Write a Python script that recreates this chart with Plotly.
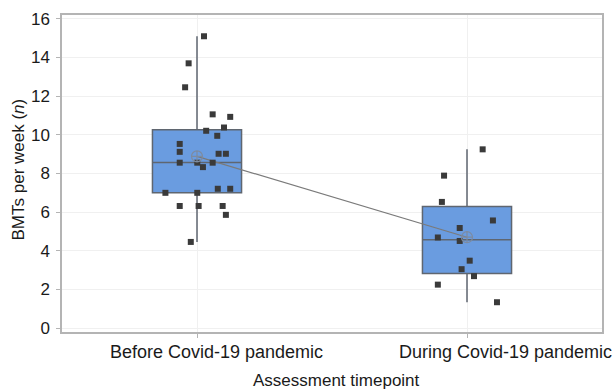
import plotly.graph_objects as go
import numpy as np

# ---- data ----
categories = ["Before Covid-19 pandemic", "During Covid-19 pandemic"]

before_values = [15.1, 13.7, 12.46, 11.06, 10.93, 10.21, 10.38, 9.95, 9.53, 9.12,
                 9.02, 9.02, 8.56, 8.56, 8.56, 8.33, 7.21, 7.21, 7.0, 7.0,
                 6.32, 6.32, 6.32, 5.86, 4.46]
before_jitter = [0.026, -0.031, -0.044, 0.058, 0.123, 0.034, 0.100, 0.075, -0.064, -0.064,
                 0.080, 0.107, -0.064, 0.001, 0.058, 0.022, 0.077, 0.123, -0.117, 0.001,
                 -0.064, 0.006, 0.095, 0.107, -0.023]

during_values = [9.25, 7.89, 6.53, 5.57, 5.18, 4.69, 4.51, 3.49, 3.05, 2.69, 2.25, 1.34]
during_jitter = [0.058, -0.085, -0.093, 0.096, -0.027, -0.108, -0.027, 0.010, -0.020, 0.026,
                 -0.108, 0.111]

box_q1 = [7.0, 2.83]
box_median = [8.57, 4.57]
box_q3 = [10.26, 6.29]
box_lower = [4.46, 1.34]
box_upper = [15.1, 9.25]

y_ticks = [0, 2, 4, 6, 8, 10, 12, 14, 16]

# ---- styles ----
FONT = "Liberation Sans, Arial, sans-serif"
BOX_FILL = "#6a9ce0"
BOX_LINE = "#5f6670"
POINT = "#3a3a3a"
GRID = "#f0f0f0"
AXIS = "#b4b4b4"
TEXT = "#1a1a1a"

fig = go.Figure()
positions = list(range(len(categories)))

for i in positions:
    fig.add_trace(go.Box(
        x=[positions[i]], q1=[box_q1[i]], median=[box_median[i]], q3=[box_q3[i]],
        lowerfence=[box_lower[i]], upperfence=[box_upper[i]],
        boxpoints=False, width=0.33, whiskerwidth=0,
        fillcolor=BOX_FILL, line=dict(color=BOX_LINE, width=1.5),
        showlegend=False, hoverinfo="skip"))

means = [float(np.mean(before_values)), float(np.mean(during_values))]
fig.add_trace(go.Scatter(x=positions, y=means, mode="lines",
                         line=dict(color="#7a7a7a", width=1.2),
                         showlegend=False, hoverinfo="skip"))

groups = [(before_values, before_jitter), (during_values, during_jitter)]
for i, (vals, jit) in enumerate(groups):
    fig.add_trace(go.Scatter(
        x=[positions[i] + j for j in jit], y=vals, mode="markers",
        marker=dict(symbol="square", size=6, color=POINT),
        showlegend=False))

fig.add_trace(go.Scatter(x=positions, y=means, mode="markers",
                         marker=dict(symbol="circle-cross-open", size=11,
                                     color="#7d8ba0", line=dict(width=1.2)),
                         showlegend=False))

label_shifts = [19, 38]
for i, c in enumerate(categories):
    fig.add_annotation(x=positions[i], y=0, xref="x", yref="paper",
                       xanchor="center", yanchor="top", yshift=-8, xshift=label_shifts[i],
                       text=c, showarrow=False,
                       font=dict(family=FONT, size=18, color=TEXT))

fig.add_annotation(x=0.5, y=0, xref="paper", yref="paper", xanchor="center",
                   yanchor="top", yshift=-37, xshift=4,
                   text="Assessment timepoint", showarrow=False,
                   font=dict(family=FONT, size=17, color=TEXT))

fig.add_annotation(x=0, y=0.5, xref="paper", yref="paper", xanchor="center",
                   yanchor="middle", xshift=-44, yshift=4,
                   text="BMTs per week (<i>n</i>)", textangle=-90, showarrow=False,
                   font=dict(family=FONT, size=17, color=TEXT))

fig.update_xaxes(range=[-0.5, 1.5], tickvals=positions, showticklabels=False,
                 ticks="outside", ticklen=4, tickcolor=AXIS,
                 showgrid=True, gridcolor=GRID, zeroline=False,
                 showline=True, linecolor=AXIS, linewidth=1.5, mirror=True)
fig.update_yaxes(range=[-0.2, 16.2], tickvals=y_ticks,
                 ticks="outside", ticklen=4, tickcolor=AXIS, ticklabelstandoff=3,
                 tickfont=dict(family=FONT, size=17, color=TEXT),
                 showgrid=True, gridcolor=GRID, zeroline=False,
                 showline=True, linecolor=AXIS, linewidth=1.5, mirror=True)

fig.update_layout(width=614, height=392,
                  margin=dict(l=62, r=10, t=11, b=60),
                  plot_bgcolor="white", paper_bgcolor="white",
                  font=dict(family=FONT, size=17))

fig.write_html("out.html", config={"displayModeBar": False},
               post_script="document.body.style.margin='0';document.body.style.overflow='hidden';")
